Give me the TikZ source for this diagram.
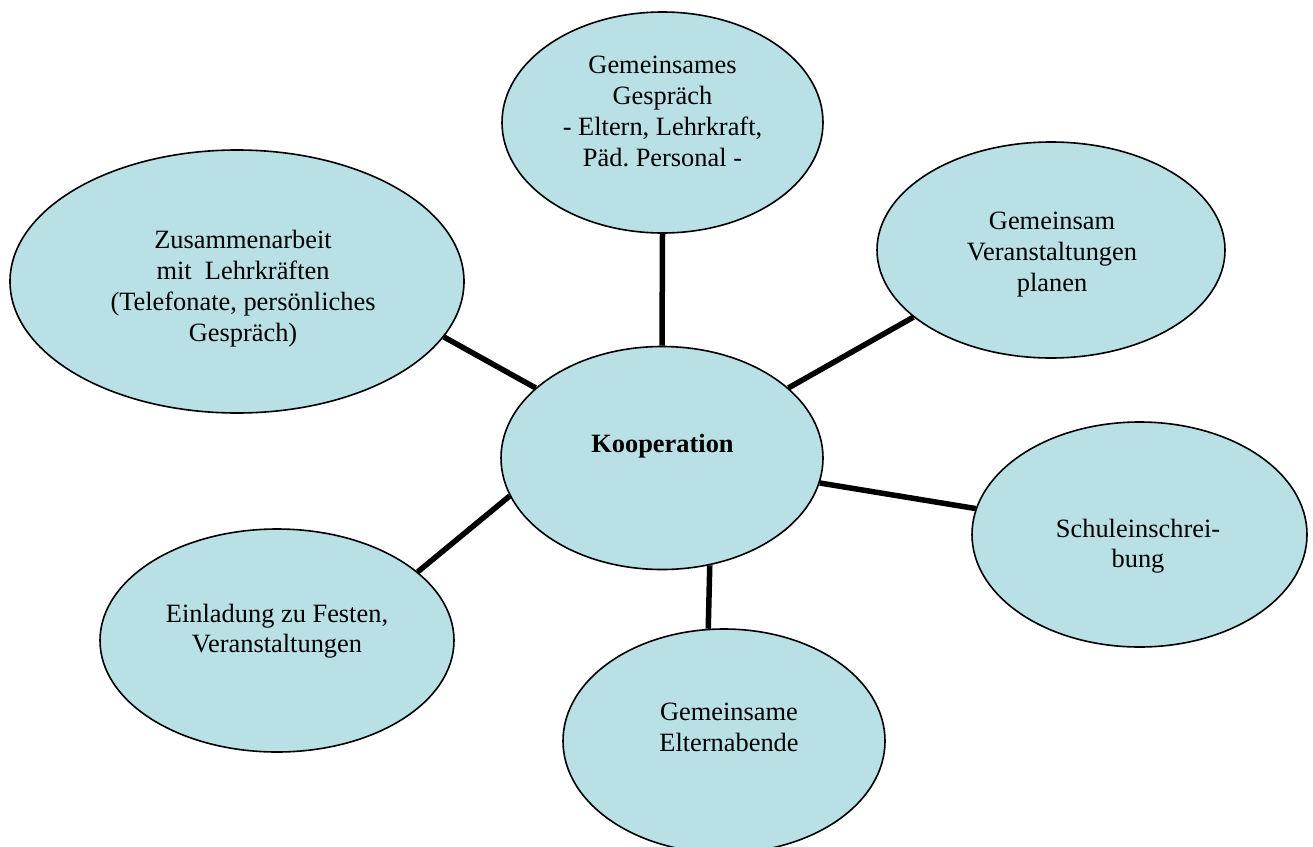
\documentclass[tikz,border=0pt]{standalone}
\usepackage{fontspec}
\setmainfont{Liberation Serif}
\usetikzlibrary{shapes.geometric,backgrounds}
\definecolor{bubblefill}{RGB}{185,224,228}
\frenchspacing
\begin{document}
\begin{tikzpicture}[x=1pt,y=-1pt,
  bubble/.style={ellipse, draw=black, line width=1.6pt, fill=bubblefill, inner sep=0pt},
  txt/.style={align=center, font=\fontsize{26.4}{30.8}\selectfont, inner sep=0pt,
    execute at begin node=\strut, execute at end node=\strut},
  link/.style={line width=5.5pt, draw=black}]
\useasboundingbox (0,0) rectangle (1313,846);
% ellipses
\node[bubble, minimum width=321pt, minimum height=221pt] (T)  at (662.5,122.5) {};
\node[bubble, minimum width=454pt, minimum height=263pt] (L)  at (237,281.5) {};
\node[bubble, minimum width=348pt, minimum height=216pt] (RT) at (1051,250) {};
\node[bubble, minimum width=322pt, minimum height=223pt] (K)  at (662,458) {};
\node[bubble, minimum width=335pt, minimum height=225pt] (S)  at (1139.5,534.5) {};
\node[bubble, minimum width=354pt, minimum height=223pt] (BL) at (277,640.5) {};
\node[bubble, minimum width=322pt, minimum height=224pt] (E)  at (724,741) {};
% texts
\node[txt] (Tt)  at (662.5,116) {Gemeinsames\\Gespräch\\- Eltern, Lehrkraft,\\Päd. Personal -};
\node[txt] (Lt)  at (243,290.5) {Zusammenarbeit\\mit~~Lehrkräften\\(Telefonate, persönliches\\Gespräch)};
\node[txt] (RTt) at (1052,256.5) {Gemeinsam\\Veranstaltungen\\planen};
\node[txt] (Kt)  at (662.5,446.5) {\bfseries Kooperation};
\node[txt] (St)  at (1138,548) {Schuleinschrei-\\bung};
\node[txt] (BLt) at (277,633) {Einladung zu Festen,\\Veranstaltungen};
\node[txt] (Et)  at (729,732) {Gemeinsame\\Elternabende};
% connectors
\begin{scope}[on background layer]
\draw[link] (T.south) -- (K.north);
\draw[link] (L.-15.1) -- (K.151.5);
\draw[link] (RT.206.9) -- (K.29.1);
\draw[link] (K.-9.1) -- (S.171);
\draw[link] (BL.26.9) -- (K.194.9);
\draw[link] (K.-66.8) -- (E.98.2);
\end{scope}
\end{tikzpicture}
\end{document}
